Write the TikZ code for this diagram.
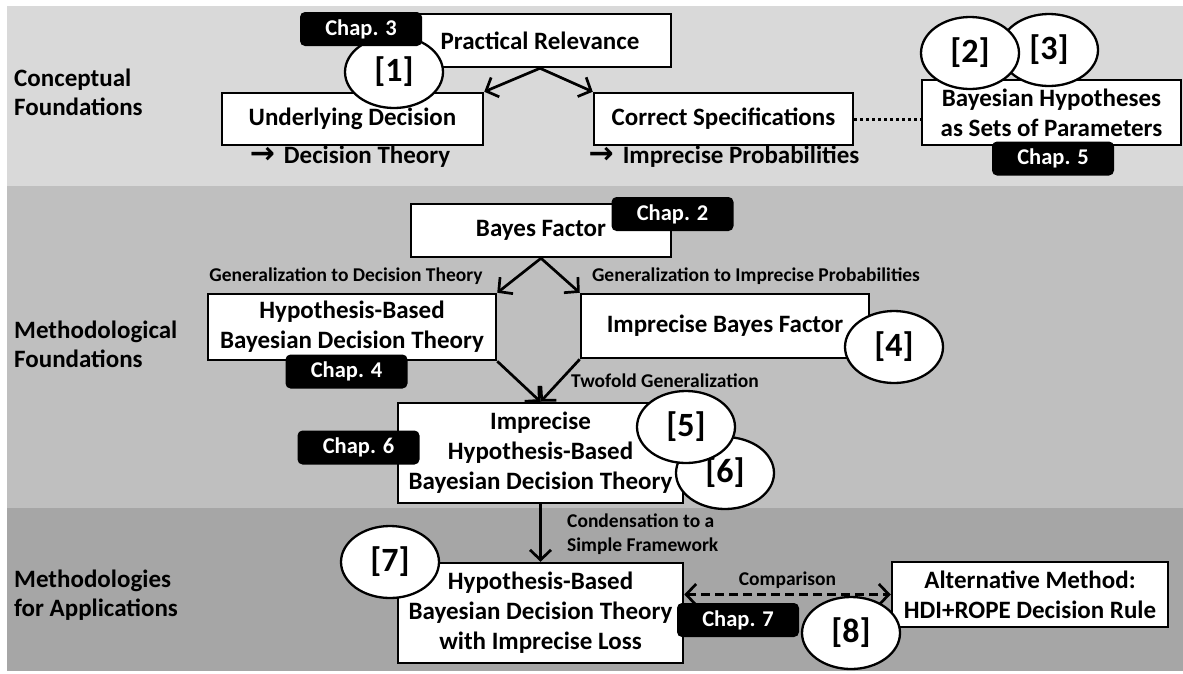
\documentclass[tikz,border=0pt]{standalone}
\usepackage{fontspec}
\setmainfont{Carlito}
\newfontfamily\symfnt{DejaVu Sans}
\usetikzlibrary{positioning,arrows.meta,shapes.geometric}
\definecolor{bandtop}{gray}{0.85}
\definecolor{bandmid}{gray}{0.75}
\definecolor{bandbot}{gray}{0.65}
\newcommand{\boxfnt}{\fontsize{25}{30}\selectfont\bfseries}
\newcommand{\levelfnt}{\fontsize{25}{29}\selectfont\bfseries}
\newcommand{\tagfnt}{\fontsize{22.5}{24}\selectfont\bfseries}
\newcommand{\numfnt}{\fontsize{34}{36}\selectfont\bfseries}
\newcommand{\edgefnt}{\fontsize{19.5}{24}\selectfont\bfseries}
\newcommand{\toarrow}{{\symfnt\fontsize{30}{30}\selectfont →}\hspace{9pt}}

\begin{document}
\begin{tikzpicture}[x=1pt, y=-1pt,
   box/.style={draw, line width=2.5pt, fill=white, inner sep=0pt,
               align=center, font=\boxfnt},
   chaptag/.style={fill=black, text=white, rounded corners=5pt, inner sep=0pt,
                   minimum width=122pt, minimum height=34pt, font=\tagfnt},
   refnum/.style={ellipse, draw, line width=2.3pt, fill=white, inner sep=0pt,
                  minimum width=98pt, minimum height=72pt, font=\numfnt},
   level/.style={anchor=west, align=left, inner sep=0pt, font=\levelfnt},
   edgelabel/.style={inner sep=0pt, align=left, font=\edgefnt},
   link/.style={line width=2.7pt},
   >={Straight Barb[length=10pt,width=21pt]}]
  \useasboundingbox (0,0) rectangle (1183,673);

  % bands
  \fill[bandtop] (7,6) rectangle (1183,186);
  \fill[bandmid] (7,186) rectangle (1183,508);
  \fill[bandbot] (7,508) rectangle (1183,671);

  \node[level] (lvlconcept) at (14,92) {Conceptual\\Foundations};
  \node[level] (lvlmethod) at (14,344) {Methodological\\Foundations};
  \node[level] (lvlapp) at (14,595) {Methodologies\\for Applications};

  % boxes
  \node[box, minimum width=262pt, minimum height=53pt] (pr) at (540,40.5) {Practical Relevance};
  \node[box, minimum width=261pt, minimum height=52pt] (ud) at (352.5,119) {Underlying Decision};
  \node[box, minimum width=259pt, minimum height=52pt] (cs) at (723.5,119) {Correct Specifications};
  \node[box, minimum width=259pt, minimum height=65pt] (bh) at (1051.5,112.5) {Bayesian Hypotheses\\as Sets of Parameters};
  \node[font=\boxfnt, inner sep=0pt] (dtnote) at (350,157) {\toarrow Decision Theory};
  \node[font=\boxfnt, inner sep=0pt] (ipnote) at (724,157) {\toarrow Imprecise Probabilities};

  \node[box, minimum width=260pt, minimum height=53pt] (bf) at (541,230.5) {Bayes Factor};
  \node[box, minimum width=288pt, minimum height=66pt] (hb) at (352,327) {Hypothesis-Based\\Bayesian Decision Theory};
  \node[box, minimum width=288pt, minimum height=64pt] (ib) at (725,326) {Imprecise Bayes Factor};
  \node[box, minimum width=285pt, minimum height=100pt] (ih) at (540.5,453) {Imprecise\\Hypothesis-Based\\Bayesian Decision Theory};

  \node[box, minimum width=285pt, minimum height=100pt] (hl) at (540.5,613) {Hypothesis-Based\\Bayesian Decision Theory\\with Imprecise Loss};
  \node[box, minimum width=276pt, minimum height=65pt] (am) at (1030,594.5) {Alternative Method:\\HDI+ROPE Decision Rule};

  % connectors
  \draw[->, link] (pr.south) -- (ud.north east);
  \draw[->, link] (pr.south) -- (cs.north west);
  \draw[line width=3pt, dash pattern=on 3pt off 3pt] (cs.east) -- (cs.east -| bh.west);
  \draw[->, link] (bf.south) -- (hb.north east);
  \draw[->, link] (bf.south) -- (ib.north west);
  \draw[->, link] (hb.south east) -- (ih.north);
  \draw[->, link] (ib.south west) -- (ih.north);
  \draw[->, link] (ih.south) -- (hl.north);
  \draw[<->, link, dash pattern=on 9pt off 5pt] (am.west -| hl.east) -- (am.west)
    node[midway, above=5pt, edgelabel] (cmp) {Comparison};

  \node[edgelabel] (gdt) at (346,276) {Generalization to Decision Theory};
  \node[edgelabel] (gip) at (756,276) {Generalization to Imprecise Probabilities};
  \node[edgelabel, anchor=west] (twofold) at (571,381) {Twofold Generalization};
  \node[edgelabel, anchor=west] (cond) at (567,534) {Condensation to a\\Simple Framework};

  % references
  \node[refnum] (r1) at (394,72) {[1]};
  \node[refnum] (r3) at (1049,50) {[3]};
  \node[refnum] (r2) at (970,53) {[2]};
  \node[refnum] (r4) at (894,347) {[4]};
  \node[refnum] (r6) at (725,473) {[6]};
  \node[refnum] (r5) at (686,427) {[5]};
  \node[refnum] (r7) at (390,562) {[7]};
  \node[refnum] (r8) at (851,633) {[8]};

  % chapters
  \node[chaptag] (c3) at (361,29) {Chap. 3};
  \node[chaptag] (c2) at (672.5,214) {Chap. 2};
  \node[chaptag] (c5) at (1053,158.5) {Chap. 5};
  \node[chaptag] (c4) at (346.5,371.5) {Chap. 4};
  \node[chaptag] (c6) at (358.5,447.5) {Chap. 6};
  \node[chaptag] (c7) at (738,620) {Chap. 7};
\end{tikzpicture}
\end{document}
